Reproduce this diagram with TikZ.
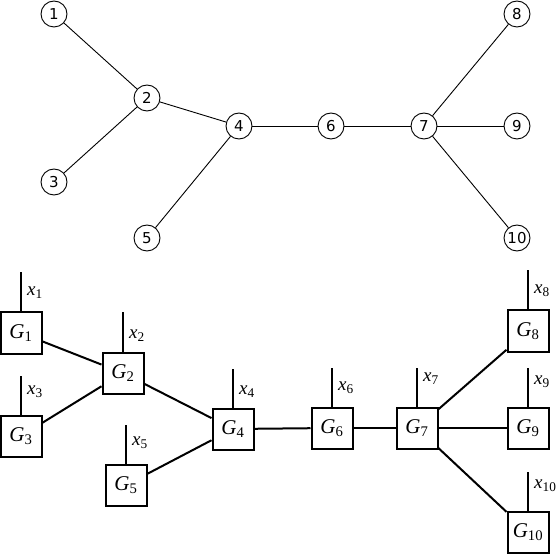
\documentclass[tikz,border=0pt]{standalone}
\usepackage{fontspec}
\setmainfont{Liberation Serif}
\newfontfamily\numfont{DejaVu Sans}
\usetikzlibrary{positioning}
\newcommand{\gsub}[2]{\textit{#1}\textsubscript{#2}}

\begin{document}
\begin{tikzpicture}[x=1pt,y=-1pt,
  vtx/.style={circle,draw,line width=.9pt,minimum size=26pt,inner sep=0pt,font=\numfont\fontsize{15}{15}\selectfont},
  blk/.style={draw,line width=2pt,minimum size=41pt,inner sep=0pt,font=\fontsize{21}{21}\selectfont},
  lnk/.style={line width=.9pt},
  wire/.style={line width=2pt},
  inp/.style={anchor=west,inner sep=0pt,font=\fontsize{19}{19}\selectfont}]
\useasboundingbox (0,0) rectangle (560,556);
% graph
\foreach \n/\x/\y in {1/54/14,2/147/98,3/54/182,4/239/126,5/147/238,6/331/126,7/424/126,8/517/14,9/517/126,10/517/238}
  \node[vtx] (v\n) at (\x,\y) {\n};
\foreach \a/\b in {1/2,3/2,2/4,5/4,4/6,6/7,7/8,7/9,7/10}
  \draw[lnk] (v\a)--(v\b);
% blocks with inputs
\foreach \n/\x/\y/\d in {1/21/333/0,2/123/373/-3,3/21/436/4,4/233/429/-3,5/126/485/2,6/332/428/0,7/417/428/9,8/528/331/0,9/528/428/6,10/528/532/6} {
  \node[blk] (g\n) at (\x,\y) {\gsub{G}{\n}};
  \coordinate (t\n) at ([yshift=39pt]g\n.north);
  \draw[wire] (g\n.north)--(t\n);
  \node[inp] (x\n) at ([xshift=6pt,yshift=19pt+\d pt]g\n.north) {\gsub{x}{\n}};
}
\foreach \a/\b in {1/2,3/2,2/4,5/4,4/6,6/7,7/8,7/9,7/10}
  \draw[wire] (g\a)--(g\b);
\end{tikzpicture}
\end{document}
